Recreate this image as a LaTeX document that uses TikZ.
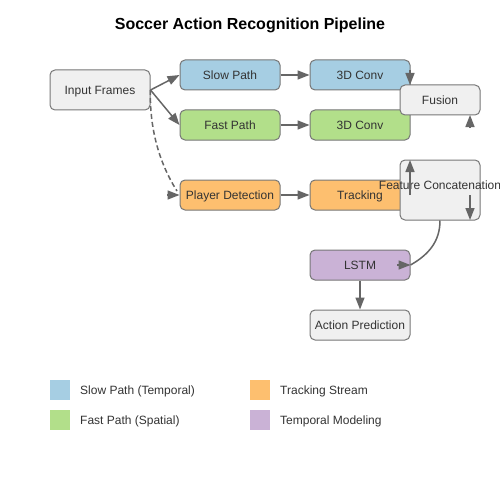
\documentclass[tikz,border=0pt]{standalone}
\usepackage{fontspec}
\setmainfont{Liberation Sans}
\usetikzlibrary{arrows.meta}
\definecolor{cblue}{HTML}{A6CEE3}
\definecolor{cgreen}{HTML}{B2DF8A}
\definecolor{corange}{HTML}{FDBF6F}
\definecolor{cpurple}{HTML}{CAB2D6}
\definecolor{cgray}{HTML}{F0F0F0}
\definecolor{bordergray}{HTML}{777777}
\definecolor{arrgray}{HTML}{666666}
\definecolor{txt}{HTML}{333333}
\begin{document}
\begin{tikzpicture}[x=1pt,y=-1pt,
  box/.style={draw=bordergray, line width=1pt, rounded corners=5pt, minimum width=100pt, minimum height=30pt, inner sep=0pt, text=txt, font=\fontsize{12}{14}\selectfont, text height=8.6pt, text depth=0pt},
  lbl/.style={inner sep=0pt, text=txt, font=\fontsize{12}{14}\selectfont, text height=8.6pt, text depth=0pt},
  swatch/.style={inner sep=0pt, minimum size=20pt},
  arr/.style={draw=arrgray, line width=1.5pt, -{Triangle[length=12pt,width=9pt]}},
  conn/.style={draw=arrgray, line width=1.5pt},
  dashconn/.style={draw=arrgray, line width=1.5pt, dash pattern=on 5pt off 3pt},
]
\useasboundingbox (0,0) rectangle (500,500);
\fill[white] (0,0) rectangle (500,500);
\node[font=\bfseries\fontsize{16}{19}\selectfont, anchor=base] (title) at (250,30) {Soccer Action Recognition Pipeline};

\node[box, fill=cgray, minimum height=40pt] (in) at (100,90) {Input Frames};
\node[box, fill=cblue] (slow) at (230,75) {Slow Path};
\node[box, fill=cblue] (conv1) at (360,75) {3D Conv};
\node[box, fill=cgreen] (fast) at (230,125) {Fast Path};
\node[box, fill=cgreen] (conv2) at (360,125) {3D Conv};
\node[box, fill=cgray, minimum width=80pt] (fusion) at (440,100) {Fusion};
\node[box, fill=corange] (det) at (230,195) {Player Detection};
\node[box, fill=corange] (trk) at (360,195) {Tracking};
\node[box, fill=cgray, minimum width=80pt, minimum height=60pt] (fc) at (440,190) {};
\node[lbl] (fct) at (440,185) {Feature Concatenation};
\node[box, fill=cpurple] (lstm) at (360,265) {LSTM};
\node[box, fill=cgray] (pred) at (360,325) {Action Prediction};

\coordinate (a1) at (410,70);
\coordinate (a1e) at (410,85);
\coordinate (a2) at (470,128);
\coordinate (a2e) at (470,115);
\coordinate (a3) at (410,195);
\coordinate (a3e) at (410,160);
\coordinate (a4) at (470,195);
\coordinate (a4e) at (470,220);
\coordinate (h1) at (167,195);
\coordinate (h2) at (397,265);

\draw[arr] (in.east) -- (slow.west);
\draw[arr] (in.east) -- (fast.west);
\draw[arr] (slow.east) -- (conv1.west);
\draw[arr] (fast.east) -- (conv2.west);
\draw[arr] (det.east) -- (trk.west);
\draw[arr] (lstm.south) -- (pred.north);
\draw[arr] (a1) -- (a1e);
\draw[arr] (a2) -- (a2e);
\draw[arr] (a3) -- (a3e);
\draw[arr] (a4) -- (a4e);
\draw[dashconn] (in.east) .. controls (149.3,128.3) and (159.3,163.3) .. (177,191);
\draw[arr] (h1) -- (det.west);
\draw[conn] (fc.south) .. controls (440,242) and (428,255) .. (lstm.east);
\draw[arr] (h2) -- (lstm.east);

\node[swatch, fill=cblue] (s1) at (60,390) {};
\node[lbl, anchor=west] (t1) at (80,390) {Slow Path (Temporal)};
\node[swatch, fill=cgreen] (s2) at (60,420) {};
\node[lbl, anchor=west] (t2) at (80,420) {Fast Path (Spatial)};
\node[swatch, fill=corange] (s3) at (260,390) {};
\node[lbl, anchor=west] (t3) at (280,390) {Tracking Stream};
\node[swatch, fill=cpurple] (s4) at (260,420) {};
\node[lbl, anchor=west] (t4) at (280,420) {Temporal Modeling};
\end{tikzpicture}
\end{document}
